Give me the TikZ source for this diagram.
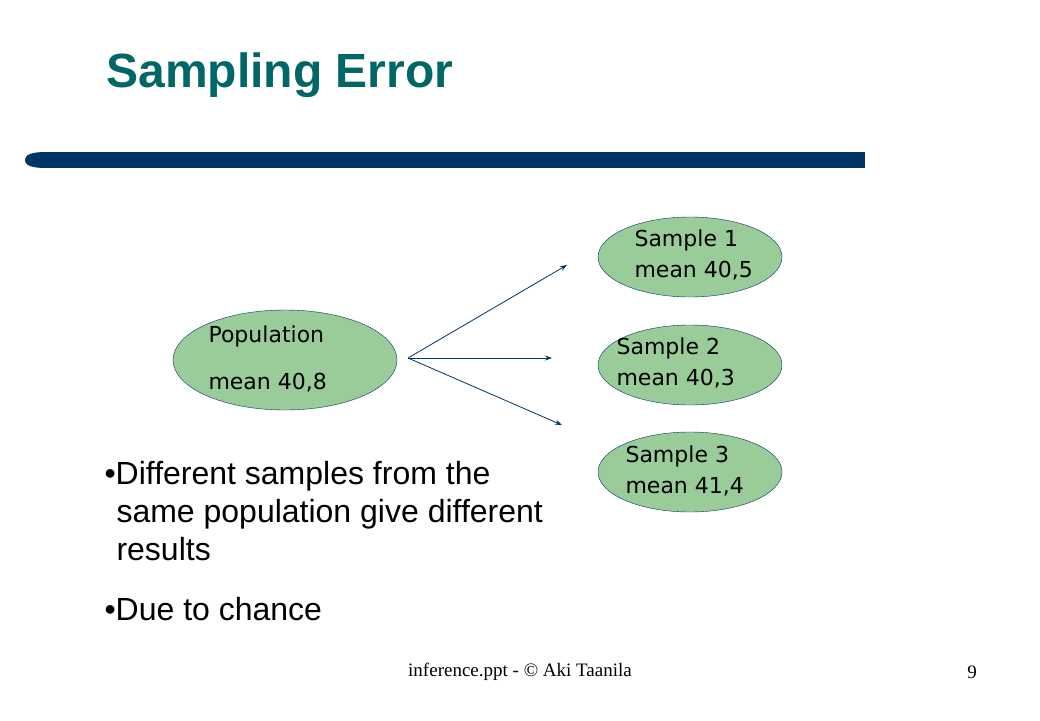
\documentclass[tikz,border=0pt]{standalone}
\usepackage{fontspec}
\setmainfont{Liberation Sans}
\newfontfamily\tms{Liberation Serif}
\newfontfamily\cms{DejaVu Sans}
\usetikzlibrary{shapes.geometric,arrows.meta}
\definecolor{teal1}{RGB}{0,102,102}
\definecolor{navy1}{RGB}{0,51,102}
\definecolor{green1}{RGB}{153,204,153}
\tikzset{ell/.style={ellipse,draw=navy1,fill=green1,minimum width=184pt,minimum height=80pt,inner sep=0pt},
lbl/.style={font=\cms\fontsize{22}{31}\selectfont,align=left,anchor=west},
arr/.style={-{Stealth[length=7pt,width=5pt]},draw=navy1,line width=0.8pt}}
\begin{document}
\begin{tikzpicture}[x=1pt,y=-1pt]
\useasboundingbox (0,0) rectangle (1040,720);
\node[anchor=west,text=teal1,font=\bfseries\fontsize{48}{52}\selectfont] (title) at (103,75) {Sampling Error};
\fill[navy1] (48,152) rectangle (865,168);
\fill[navy1] (25,160) .. controls (25,152) and (40,152) .. (48,152) -- (48,168) .. controls (40,168) and (25,168) .. (25,160);
\node[ellipse,draw=navy1,fill=green1,minimum width=224pt,minimum height=100pt] (pop) at (285,360) {};
\node[lbl] (popt) at (205,336) {Population};
\node[lbl] (popm) at (205,383) {mean 40,8};
\node[ell] (s1) at (690,257) {};
\node[lbl] (s1t) at (631,255) {Sample 1\\ mean 40,5};
\node[ell] (s2) at (690,365) {};
\node[lbl] (s2t) at (613,363) {Sample 2\\mean 40,3};
\node[ell] (s3) at (690,472) {};
\node[lbl] (s3t) at (622,471) {Sample 3\\mean 41,4};
\coordinate (o) at (408,358);
\coordinate (e1) at (567,265);
\coordinate (e2) at (552,358);
\coordinate (e3) at (562,425);
\draw[arr] (o) -- (e1);
\draw[arr] (o) -- (e2);
\draw[arr] (o) -- (e3);
\node[anchor=west,font=\fontsize{32}{38}\selectfont,align=left] (b1) at (101,511) {•Different samples from the\\\hspace*{12pt}same population give different\\\hspace*{12pt}results};
\node[anchor=west,font=\fontsize{32}{36}\selectfont] (b2) at (101,609) {•Due to chance};
\node[font=\tms\fontsize{19}{22}\selectfont] (f) at (520,672) {inference.ppt - © Aki Taanila};
\node[font=\tms\fontsize{19}{22}\selectfont] (n) at (972,672) {9};
\end{tikzpicture}
\end{document}
